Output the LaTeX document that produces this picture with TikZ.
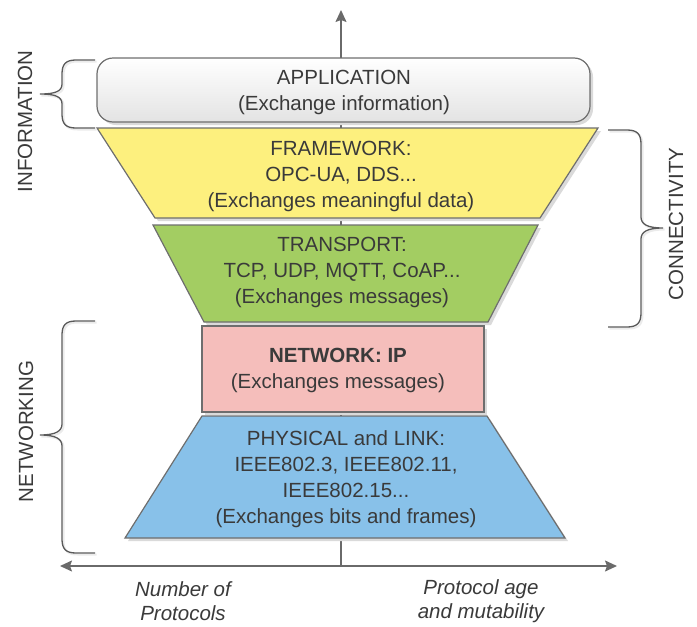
\documentclass[tikz,border=0pt]{standalone}
\usepackage{fontspec}
\setmainfont{Liberation Sans}
\usetikzlibrary{arrows.meta}
\definecolor{txt}{HTML}{3A3A3A}
\definecolor{edge}{HTML}{6E6E6E}
\definecolor{axisgray}{HTML}{6A6A6A}
\definecolor{bracegray}{HTML}{5A5A5A}
\definecolor{fwfill}{HTML}{FDF07E}
\definecolor{trfill}{HTML}{A3CD62}
\definecolor{netfill}{HTML}{F5BEBB}
\definecolor{phyfill}{HTML}{88C1E9}
\definecolor{shade}{HTML}{DADADA}
\tikzset{
  layerbox/.style={draw=edge, line width=1.2pt},
  boxshadow/.style={fill=shade, draw=none},
  layertext/.style={text=txt, align=center, font=\fontsize{20.5}{26}\selectfont, inner sep=0pt},
  sidetext/.style={text=txt, font=\fontsize{20.5}{25}\selectfont, inner sep=0pt, rotate=90, anchor=base},
  axislabel/.style={text=txt, align=center, font=\fontsize{20.5}{24}\selectfont\itshape, inner sep=0pt},
  axisline/.style={draw=axisgray, line width=1.5pt, -{Stealth[length=12pt,width=11pt,inset=2pt]}},
  curly/.style={draw=bracegray, line width=1.3pt},
  curlyshadow/.style={draw=black!8, line width=2pt},
}
\begin{document}
\begin{tikzpicture}[x=1pt,y=-1pt]
\useasboundingbox (0,0) rectangle (697,627);

% axes
\coordinate (origin) at (341,566);
\coordinate (up) at (341,10);
\coordinate (leftend) at (60,566);
\coordinate (rightend) at (617,566);
\draw[axisline] (origin) -- (up);
\draw[axisline] (origin) -- (leftend);
\draw[axisline] (origin) -- (rightend);

% application layer
\fill[boxshadow, rounded corners=16pt] (100,61) rectangle (593,125);
\shade[top color=white, bottom color=black!11, draw=edge, line width=1.2pt, rounded corners=16pt]
  (97,58) rectangle (590,122);
\node[layertext] (app) at (344,92) {APPLICATION\\(Exchange information)};

% framework layer
\fill[boxshadow] (100,131) -- (601,131) -- (543,221) -- (158,221) -- cycle;
\filldraw[layerbox, fill=fwfill] (97,128) -- (598,128) -- (540,218) -- (155,218) -- cycle;
\node[layertext] (fw) at (341,176) {FRAMEWORK:\\OPC-UA, DDS...\\(Exchanges meaningful data)};

% transport layer
\fill[boxshadow] (156,228) -- (541,228) -- (491,325) -- (207,325) -- cycle;
\filldraw[layerbox, fill=trfill] (153,225) -- (538,225) -- (488,322) -- (204,322) -- cycle;
\node[layertext] (tr) at (342,272) {TRANSPORT:\\TCP, UDP, MQTT, CoAP...\\(Exchanges messages)};

% network layer
\fill[boxshadow] (205,329) rectangle (487,415);
\filldraw[layerbox, fill=netfill] (202,326) rectangle (484,412);
\node[layertext] (net) at (338,370) {\textbf{NETWORK: IP}\\(Exchanges messages)};

% physical and link layer
\fill[boxshadow] (205,419) -- (490,419) -- (568,541) -- (128,541) -- cycle;
\filldraw[layerbox, fill=phyfill] (202,416) -- (487,416) -- (565,538) -- (125,538) -- cycle;
\node[layertext] (phy) at (346,479) {PHYSICAL and LINK:\\IEEE802.3, IEEE802.11,\\IEEE802.15...\\(Exchanges bits and frames)};

% braces
\foreach \s/\st in {1.5/curlyshadow, 0/curly} {
  \begin{scope}[shift={(\s,\s)}]
  % information
  \draw[\st] (95,60) -- (76,60) .. controls (66,60) and (62,64) .. (62,74) -- (62,84)
    .. controls (62,91) and (56,94) .. (40,94)
    .. controls (56,94) and (62,97) .. (62,104) -- (62,114)
    .. controls (62,124) and (66,128) .. (76,128) -- (95,128);
  % networking
  \draw[\st] (95,321) -- (76,321) .. controls (66,321) and (62,325) .. (62,335) -- (62,424)
    .. controls (62,431) and (56,435) .. (40,435)
    .. controls (56,435) and (62,439) .. (62,446) -- (62,539)
    .. controls (62,549) and (66,553) .. (76,553) -- (95,553);
  % connectivity
  \draw[\st] (608,130) -- (627,130) .. controls (637,130) and (641,134) .. (641,144) -- (641,217)
    .. controls (641,224) and (647,228) .. (663,228)
    .. controls (647,228) and (641,232) .. (641,239) -- (641,313)
    .. controls (641,323) and (637,327) .. (627,327) -- (608,327);
  \end{scope}
}

% side labels
\node[sidetext] (info) at (32,121.5) {INFORMATION};
\node[sidetext] (netw) at (33,431.5) {NETWORKING};
\node[sidetext] (conn) at (683,224) {CONNECTIVITY};

% axis labels
\node[axislabel] (nprot) at (183,601) {Number of\\Protocols};
\node[axislabel] (age) at (481,601) {Protocol age\\and mutability};
\end{tikzpicture}
\end{document}
